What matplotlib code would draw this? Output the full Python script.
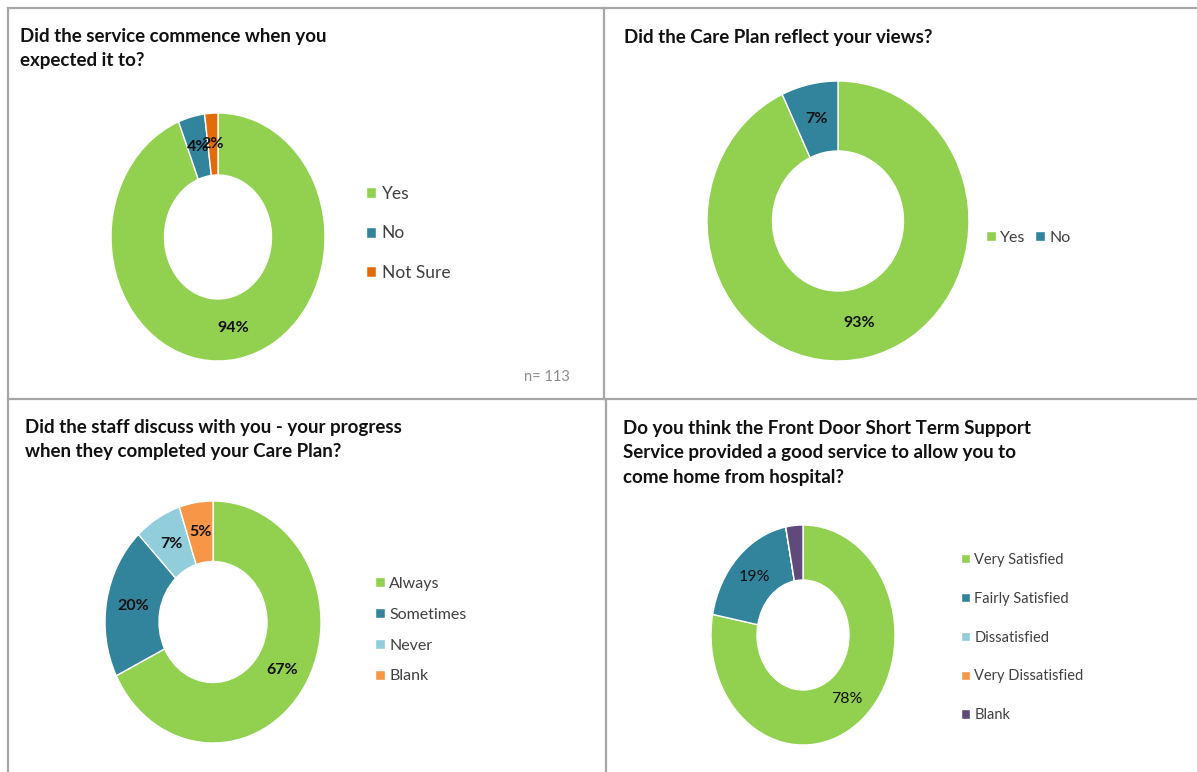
import matplotlib
matplotlib.use("Agg")
import matplotlib.pyplot as plt
from matplotlib.lines import Line2D
import numpy as np

W, H = 1197, 772

GREEN = "#92D050"
TEAL = "#31849B"
DARK_ORANGE = "#E36C09"
ORANGE = "#F79646"
LIGHT_BLUE = "#92CDDC"
PURPLE = "#604A7B"

# survey answers (percent)
commence_labels = ["Yes", "No", "Not Sure"]
commence_values = [94, 4, 2]

views_labels = ["Yes", "No"]
views_values = [93, 7]

progress_labels = ["Always", "Sometimes", "Never", "Blank"]
progress_values = [67, 20, 7, 5]

service_labels = ["Very Satisfied", "Fairly Satisfied", "Dissatisfied",
                  "Very Dissatisfied", "Blank"]
service_values = [78, 19, 0, 0, 3]
service_shown = [True, True, False, False, False]

plt.rcParams["font.family"] = ["Lato", "DejaVu Sans"]

fig = plt.figure(figsize=(W / 100, H / 100), dpi=100)


def box(x0, y0, x1, y1):
    # pixel box (top-left origin) -> figure fraction rect
    return [x0 / W, 1 - y1 / H, (x1 - x0) / W, (y1 - y0) / H]


def fx(x):
    return x / W


def fy(y):
    return 1 - y / H


def donut(cx, cy, rx, ry, values, colors, shown=None, weight="bold", size=11.5):
    ax = fig.add_axes(box(cx - rx, cy - ry, cx + rx, cy + ry))
    wedges, _ = ax.pie(values, colors=colors, startangle=90, counterclock=False,
                       wedgeprops=dict(width=0.5, edgecolor="white", linewidth=1))
    ax.set_aspect("auto")
    ax.set_xlim(-1, 1)
    ax.set_ylim(-1, 1)
    ax.axis("off")
    if shown is None:
        shown = [True] * len(values)
    for w, v, s in zip(wedges, values, shown):
        w.set_clip_on(False)
        if not s or v == 0:
            continue
        t = np.deg2rad((w.theta1 + w.theta2) / 2)
        ax.text(0.75 * np.cos(t), 0.75 * np.sin(t), f"{v}%", ha="center",
                va="center", fontsize=size, fontweight=weight, color="#111111")
    return ax, wedges


def legend(ax, wedges, labels, x, y, size, spacing, ncol=1, colspace=0.8):
    ax.legend(wedges, labels, loc="upper left", bbox_to_anchor=(fx(x), fy(y)),
              bbox_transform=fig.transFigure, frameon=False, fontsize=size,
              handlelength=0.6, handleheight=0.6, handletextpad=0.3,
              borderpad=0, borderaxespad=0, labelspacing=spacing, ncol=ncol,
              columnspacing=colspace, labelcolor="#404040")


title_kw = dict(fontsize=13.5, fontweight="bold", color="#111111", va="top",
                ha="left", linespacing=1.52)

# panel frames
for (x0, y0, x1, y1) in [(8, 8, W, 8), (8, 8, 8, H), (8, 399, W, 399),
                         (604, 8, 604, 399), (606, 399, 606, H)]:
    fig.add_artist(Line2D([fx(x0), fx(x1)], [fy(y0), fy(y1)], color="#A6A6A6",
                          linewidth=1.6))

# top left
fig.text(fx(20), fy(28), "Did the service commence when you\nexpected it to?", **title_kw)
ax, wd = donut(218, 237, 107, 124, commence_values, [GREEN, TEAL, DARK_ORANGE])
legend(ax, wd, commence_labels, 366, 186, 12.5, 1.35)
fig.text(fx(524), fy(377), "n= 113", fontsize=10.5, color="#8C8C8C", va="center")

# top right
fig.text(fx(624), fy(29), "Did the Care Plan reflect your views?", **title_kw)
ax, wd = donut(838, 221, 131, 140, views_values, [GREEN, TEAL])
legend(ax, wd, views_labels, 986, 231, 11.5, 0.5, ncol=2, colspace=0.6)

# bottom left
fig.text(fx(25), fy(419), "Did the staff discuss with you - your progress\n"
         "when they completed your Care Plan?", **title_kw)
ax, wd = donut(213, 622, 108, 121, progress_values, [GREEN, TEAL, LIGHT_BLUE, ORANGE])
legend(ax, wd, progress_labels, 375, 577, 11.5, 1.05)

# bottom right
fig.text(fx(623), fy(420), "Do you think the Front Door Short Term Support\n"
         "Service provided a good service to allow you to\n"
         "come home from hospital?", **title_kw)
ax, wd = donut(803, 635, 92, 110, service_values,
               [GREEN, TEAL, LIGHT_BLUE, ORANGE, PURPLE], shown=service_shown,
               weight="normal")
legend(ax, wd, service_labels, 961, 553, 10.5, 1.7)

fig.savefig("out.png", dpi=100, facecolor="white")
